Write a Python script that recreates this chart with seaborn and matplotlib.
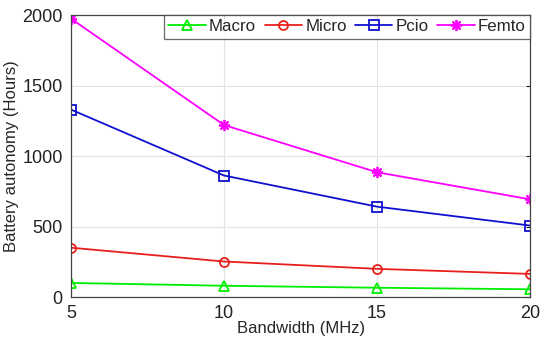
import numpy as np
import pandas as pd
import matplotlib
matplotlib.use("Agg")
import matplotlib.pyplot as plt
import seaborn as sns

# values
bandwidth = [5, 10, 15, 20]
macro = [100, 80, 66, 55]
micro = [350, 252, 200, 164]
pcio = [1330, 862, 641, 507]
femto = [1975, 1220, 885, 693]

series_names = ["Macro", "Micro", "Pcio", "Femto"]
series_vals = [macro, micro, pcio, femto]
colors = ["#00ee00", "#e8201c", "#1010d0", "#ff00ff"]
markers = ["^", "o", "s", (8, 2, 0)]

sns.set_style("white")
plt.rcParams["font.family"] = ["Liberation Sans", "DejaVu Sans"]

fig = plt.figure(figsize=(5.5, 3.43), dpi=100)
ax = fig.add_axes([0.129, 0.134, 0.835, 0.822])

for name, vals, c, m in zip(series_names, series_vals, colors, markers):
    df = pd.DataFrame({"Bandwidth": bandwidth, "Hours": vals})
    sns.lineplot(data=df, x="Bandwidth", y="Hours", ax=ax, color=c, marker=m,
                 markersize=6.5 if name != "Femto" else 8, mfc="none", mec=c, mew=1.3,
                 linewidth=1.3, label=name)

ax.set_xlim(5, 20)
ax.set_ylim(0, 2000)
ax.set_xticks([5, 10, 15, 20])
ax.set_yticks([0, 500, 1000, 1500, 2000])
ax.grid(True, color="#e3e3e3", linewidth=0.8)
ax.tick_params(direction="in", labelsize=13, colors="#222222", length=3,
               top=True, right=True, pad=6)
for s in ax.spines.values():
    s.set_color("#444444")
    s.set_linewidth(0.9)
ax.set_xlabel("Bandwidth (MHz)", fontsize=12, labelpad=-1)
ax.set_ylabel("Battery autonomy (Hours)", fontsize=12, labelpad=2)

leg = ax.legend(loc="upper right", bbox_to_anchor=(1, 1), borderaxespad=0,
                ncol=4, fontsize=12.2, frameon=True, fancybox=False,
                handlelength=2.2, handletextpad=0.2, columnspacing=0.5,
                borderpad=0.25)
leg.get_frame().set_edgecolor("#444444")
leg.get_frame().set_linewidth(0.9)

fig.savefig("out.png", dpi=100)
